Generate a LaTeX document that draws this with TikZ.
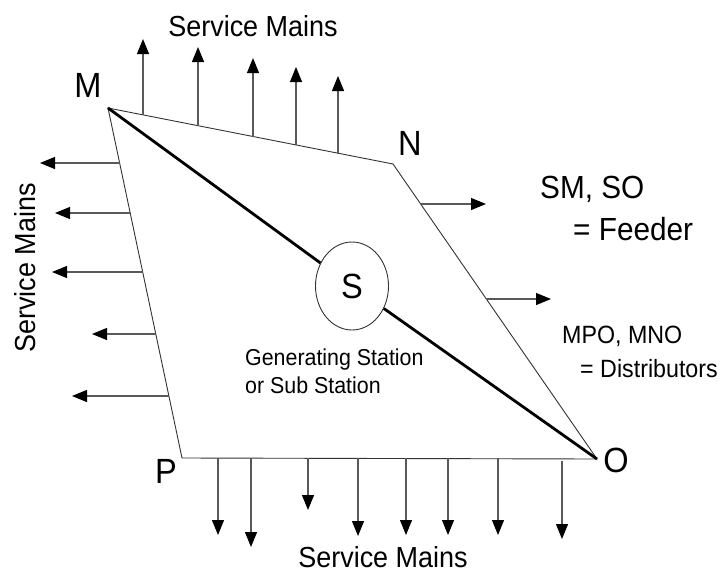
\documentclass[tikz,border=0pt]{standalone}
\usepackage{fontspec}
\setmainfont{Liberation Sans}[FakeStretch=0.93]
\usetikzlibrary{arrows.meta,shapes.geometric}
\begin{document}
\begin{tikzpicture}[x=1pt,y=-1pt,
  edge/.style={draw=black!80,line width=0.9pt},
  feeder/.style={draw=black,line width=2.8pt},
  smain/.style={draw=black!65,line width=1.2pt,-{Triangle[width=12pt,length=15pt,color=black,fill=black]}},
  vlabel/.style={inner sep=0pt,font=\fontsize{35}{40}\selectfont},
  bigtxt/.style={inner sep=0pt,font=\fontsize{29}{34}\selectfont},
  feedtxt/.style={inner sep=0pt,anchor=base west,font=\fontsize{32}{36}\selectfont},
  disttxt/.style={inner sep=0pt,anchor=base west,font=\fontsize{25}{30}\selectfont},
  gentxt/.style={inner sep=0pt,anchor=base west,font=\fontsize{23}{27}\selectfont}]
\useasboundingbox (0,0) rectangle (721,573);
% corners
\coordinate (M) at (108,108);
\coordinate (N) at (393,164);
\coordinate (O) at (597,459);
\coordinate (P) at (182,458);
% outline
\draw[edge,line join=miter] (M) -- (N) -- (O) -- (P) -- cycle;
% substation
\node[draw=black!80,line width=0.9pt,fill=white,ellipse,minimum width=73pt,minimum height=88pt,inner sep=0pt,font=\fontsize{35}{40}\selectfont] (S) at (352,286) {S};
\draw[feeder] (M) -- (S);
\draw[feeder] (S) -- (O);
% labels of corners
\node[vlabel,anchor=base] (lM) at (88,97) {M};
\node[vlabel,anchor=base] (lN) at (410,155) {N};
\node[vlabel,anchor=base] (lP) at (166,483) {P};
\node[vlabel,anchor=base] (lO) at (616,472) {O};
% top service mains
\coordinate (t1s) at (143,115); \coordinate (t1e) at (143,39);
\coordinate (t2s) at (198,126); \coordinate (t2e) at (198,47);
\coordinate (t3s) at (253,137); \coordinate (t3e) at (253,58);
\coordinate (t4s) at (296,145); \coordinate (t4e) at (296,67);
\coordinate (t5s) at (338,153); \coordinate (t5e) at (338,76);
\foreach \i in {1,...,5} \draw[smain] (t\i s) -- (t\i e);
% left service mains
\coordinate (l1s) at (120,163); \coordinate (l1e) at (40,163);
\coordinate (l2s) at (130,213); \coordinate (l2e) at (55,213);
\coordinate (l3s) at (143,272); \coordinate (l3e) at (52,272);
\coordinate (l4s) at (156,334); \coordinate (l4e) at (92,334);
\coordinate (l5s) at (169,396); \coordinate (l5e) at (72,396);
\foreach \i in {1,...,5} \draw[smain] (l\i s) -- (l\i e);
% right arrows
\coordinate (r1s) at (421,204); \coordinate (r1e) at (486,204);
\coordinate (r2s) at (486,299); \coordinate (r2e) at (551,299);
\foreach \i in {1,2} \draw[smain] (r\i s) -- (r\i e);
% bottom service mains
\coordinate (b1s) at (218,458); \coordinate (b1e) at (218,535);
\coordinate (b2s) at (251,458); \coordinate (b2e) at (251,547);
\coordinate (b3s) at (308,458); \coordinate (b3e) at (308,510);
\coordinate (b4s) at (358,458); \coordinate (b4e) at (358,536);
\coordinate (b5s) at (406,458); \coordinate (b5e) at (406,535);
\coordinate (b6s) at (448,458); \coordinate (b6e) at (448,535);
\coordinate (b7s) at (498,458); \coordinate (b7e) at (498,535);
\coordinate (b8s) at (562,461); \coordinate (b8e) at (562,539);
\foreach \i in {1,...,8} \draw[smain] (b\i s) -- (b\i e);
% texts
\node[bigtxt,anchor=base] (smtop) at (253,36) {Service Mains};
\node[bigtxt,anchor=base,rotate=90] (smleft) at (35,268) {Service Mains};
\node[bigtxt,anchor=base] (smbot) at (383,567) {Service Mains};
\node[feedtxt] (f1) at (540,198) {SM, SO};
\node[feedtxt] (f2) at (573,240) {= Feeder};
\node[disttxt] (d1) at (562,343) {MPO, MNO};
\node[disttxt] (d2) at (580,377) {= Distributors};
\node[gentxt] (g1) at (245,365) {Generating Station};
\node[gentxt] (g2) at (245,393) {or Sub Station};
\end{tikzpicture}
\end{document}
